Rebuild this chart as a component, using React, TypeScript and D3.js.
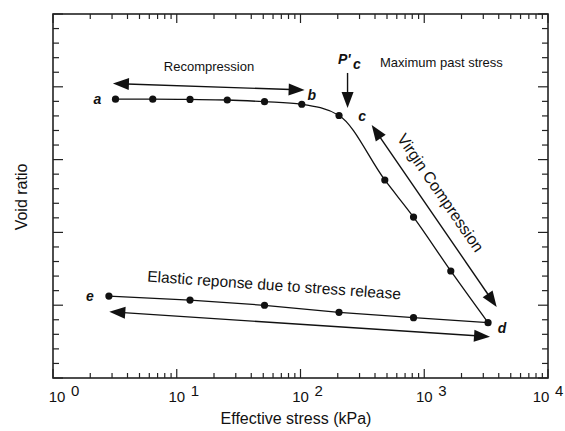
import React from "react";
import * as d3 from "d3";

// consolidation curve (void ratio vs log effective stress)

const width = 565;
const height = 431;
const margin = { top: 14, right: 17, bottom: 53, left: 53 };

// loading branch: a -> b -> c -> d
const loadStress = [3.2, 6.4, 12.8, 25.6, 51.2, 102.4, 204.8, 480, 819.2, 1638.4, 3276.8];
const loadVoid = [3.83, 3.83, 3.826, 3.819, 3.795, 3.76, 3.606, 2.72, 2.21, 1.47, 0.76];

// unloading branch: e ... d
const unloadStress = [2.83, 12.8, 51.2, 204.8, 819.2, 3276.8];
const unloadVoid = [1.126, 1.071, 0.999, 0.902, 0.828, 0.76];

// annotation arrows (stress / void ratio of both ends)
const arrowFromStress = [3.05, 376, 2.85, 240];
const arrowFromVoid = [4.045, 3.475, 0.911, 4.19];
const arrowToStress = [108, 3850, 3400, 240];
const arrowToVoid = [3.956, 0.975, 0.567, 3.709];
const arrowBothEnds = [true, true, true, false];

const xExponents = [0, 1, 2, 3, 4];

const font = "'Liberation Sans', Arial, Helvetica, sans-serif";

const x = d3
  .scaleLog()
  .domain([1, 10000])
  .range([margin.left, width - margin.right]);

const y = d3
  .scaleLinear()
  .domain([0, 5])
  .range([height - margin.bottom, margin.top]);

const headLen = 16;
const headHalf = 6;

function head(tx: number, ty: number, fx: number, fy: number) {
  // triangle with its tip at (tx,ty) pointing away from (fx,fy)
  const a = Math.atan2(ty - fy, tx - fx);
  const bx = tx - headLen * Math.cos(a);
  const by = ty - headLen * Math.sin(a);
  const px = headHalf * Math.sin(a);
  const py = -headHalf * Math.cos(a);
  return `${tx},${ty} ${bx + px},${by + py} ${bx - px},${by - py}`;
}

const App = () => {
  const x0 = margin.left;
  const x1 = width - margin.right;
  const y0 = height - margin.bottom;
  const y1 = margin.top;

  const loadPts: [number, number][] = loadStress.map((s, i) => [x(s), y(loadVoid[i])]);
  const unloadPts: [number, number][] = unloadStress.map((s, i) => [x(s), y(unloadVoid[i])]);

  const loadLine = d3.line().curve(d3.curveMonotoneX)(loadPts) || "";
  const unloadLine = d3.line()(unloadPts) || "";

  // log minor ticks
  const xMinor: number[] = [];
  for (let e = 0; e < 4; e++) {
    for (let m = 2; m <= 9; m++) xMinor.push(m * Math.pow(10, e));
  }
  const xMajor = xExponents.map((e) => Math.pow(10, e));
  const yMinor = d3.range(0, 5.001, 0.2).filter((v) => Math.abs(v - Math.round(v)) > 0.01);
  const yMajor = d3.range(0, 6, 1);

  const a = loadPts[0];
  const b = loadPts[5];
  const c = loadPts[6];
  const d = loadPts[loadPts.length - 1];
  const e = unloadPts[0];

  const italic = { fontFamily: font, fontStyle: "italic", fontWeight: "bold", fontSize: 14 } as const;

  return (
    <div style={{ position: "absolute", left: 0, top: 0 }}>
      <svg width={width} height={height} style={{ display: "block", background: "#fff" }}>
        {/* ticks */}
        <g stroke="#222" strokeWidth={1.2}>
          {xMinor.map((v) => (
            <g key={"xm" + v}>
              <line x1={x(v)} x2={x(v)} y1={y0} y2={y0 - 5} />
              <line x1={x(v)} x2={x(v)} y1={y1} y2={y1 + 5} />
            </g>
          ))}
          {xMajor.map((v) => (
            <g key={"xM" + v}>
              <line x1={x(v)} x2={x(v)} y1={y0} y2={y0 - 9} />
              <line x1={x(v)} x2={x(v)} y1={y1} y2={y1 + 9} />
            </g>
          ))}
          {yMinor.map((v) => (
            <g key={"ym" + v}>
              <line x1={x0} x2={x0 + 6} y1={y(v)} y2={y(v)} />
              <line x1={x1} x2={x1 - 6} y1={y(v)} y2={y(v)} />
            </g>
          ))}
          {yMajor.map((v) => (
            <g key={"yM" + v}>
              <line x1={x0} x2={x0 + 10} y1={y(v)} y2={y(v)} />
              <line x1={x1} x2={x1 - 10} y1={y(v)} y2={y(v)} />
            </g>
          ))}
        </g>
        <rect x={x0} y={y1} width={x1 - x0} height={y0 - y1} fill="none" stroke="#222" strokeWidth={1.6} />

        {/* tick labels 10^n, end labels nudged inside */}
        {xExponents.map((ex) => {
          const nudge = ex === 0 ? 4 : ex === 4 ? -7 : 0;
          const tx = x(Math.pow(10, ex)) + nudge;
          return (
            <g key={"lab" + ex} fontFamily={font} fontSize={15} fill="#111">
              <text x={tx} y={402} textAnchor="middle">10</text>
              <text x={tx + 14} y={395.5}>{ex}</text>
            </g>
          );
        })}

        {/* axis titles */}
        <text x={296} y={424} textAnchor="middle" fontFamily={font} fontSize={16} fill="#111">
          Effective stress (kPa)
        </text>
        <text
          transform={`translate(27, ${(y0 + y1) / 2 + 1}) rotate(-90)`}
          textAnchor="middle"
          fontFamily={font}
          fontSize={16}
          fill="#111"
        >
          Void ratio
        </text>

        {/* curves */}
        <path d={loadLine} fill="none" stroke="#111" strokeWidth={1.3} />
        <path d={unloadLine} fill="none" stroke="#111" strokeWidth={1.3} />
        {loadPts.map((p, i) => (
          <circle key={"lp" + i} cx={p[0]} cy={p[1]} r={3.6} fill="#111" />
        ))}
        {unloadPts.slice(0, -1).map((p, i) => (
          <circle key={"up" + i} cx={p[0]} cy={p[1]} r={3.6} fill="#111" />
        ))}

        {/* arrows */}
        {arrowFromStress.map((s, i) => {
          const fx = x(s);
          const fy = y(arrowFromVoid[i]);
          const tx = x(arrowToStress[i]);
          const ty = y(arrowToVoid[i]);
          const len = Math.hypot(tx - fx, ty - fy);
          const ux = (tx - fx) / len;
          const uy = (ty - fy) / len;
          const sx = arrowBothEnds[i] ? fx + ux * (headLen - 2) : fx;
          const sy = arrowBothEnds[i] ? fy + uy * (headLen - 2) : fy;
          return (
            <g key={"ar" + i}>
              <line
                x1={sx}
                y1={sy}
                x2={tx - ux * (headLen - 2)}
                y2={ty - uy * (headLen - 2)}
                stroke="#111"
                strokeWidth={1.4}
              />
              <polygon points={head(tx, ty, fx, fy)} fill="#111" />
              {arrowBothEnds[i] && <polygon points={head(fx, fy, tx, ty)} fill="#111" />}
            </g>
          );
        })}

        {/* point labels */}
        <g {...italic} fill="#111">
          <text x={a[0] - 18} y={a[1] + 5} textAnchor="middle">a</text>
          <text x={b[0] + 10} y={b[1] - 4} textAnchor="middle">b</text>
          <text x={c[0] + 23} y={c[1] + 5.5} textAnchor="middle">c</text>
          <text x={d[0] + 14} y={d[1] + 10} textAnchor="middle">d</text>
          <text x={e[0] - 19} y={e[1] + 4.5} textAnchor="middle">e</text>
          <text x={338} y={64}>P'</text>
          <text x={353} y={68.5}>c</text>
        </g>

        {/* annotations */}
        <g fontFamily={font} fill="#111">
          <text x={209} y={71} fontSize={13} textAnchor="middle">Recompression</text>
          <text x={380} y={67} fontSize={13}>Maximum past stress</text>
          <text transform="translate(147, 281.5) rotate(4)" fontSize={15.5}>
            Elastic reponse due to stress release
          </text>
          <text transform="translate(436, 196) rotate(55.5)" fontSize={16} textAnchor="middle">
            Virgin Compression
          </text>
        </g>
      </svg>
    </div>
  );
};

export default App;
